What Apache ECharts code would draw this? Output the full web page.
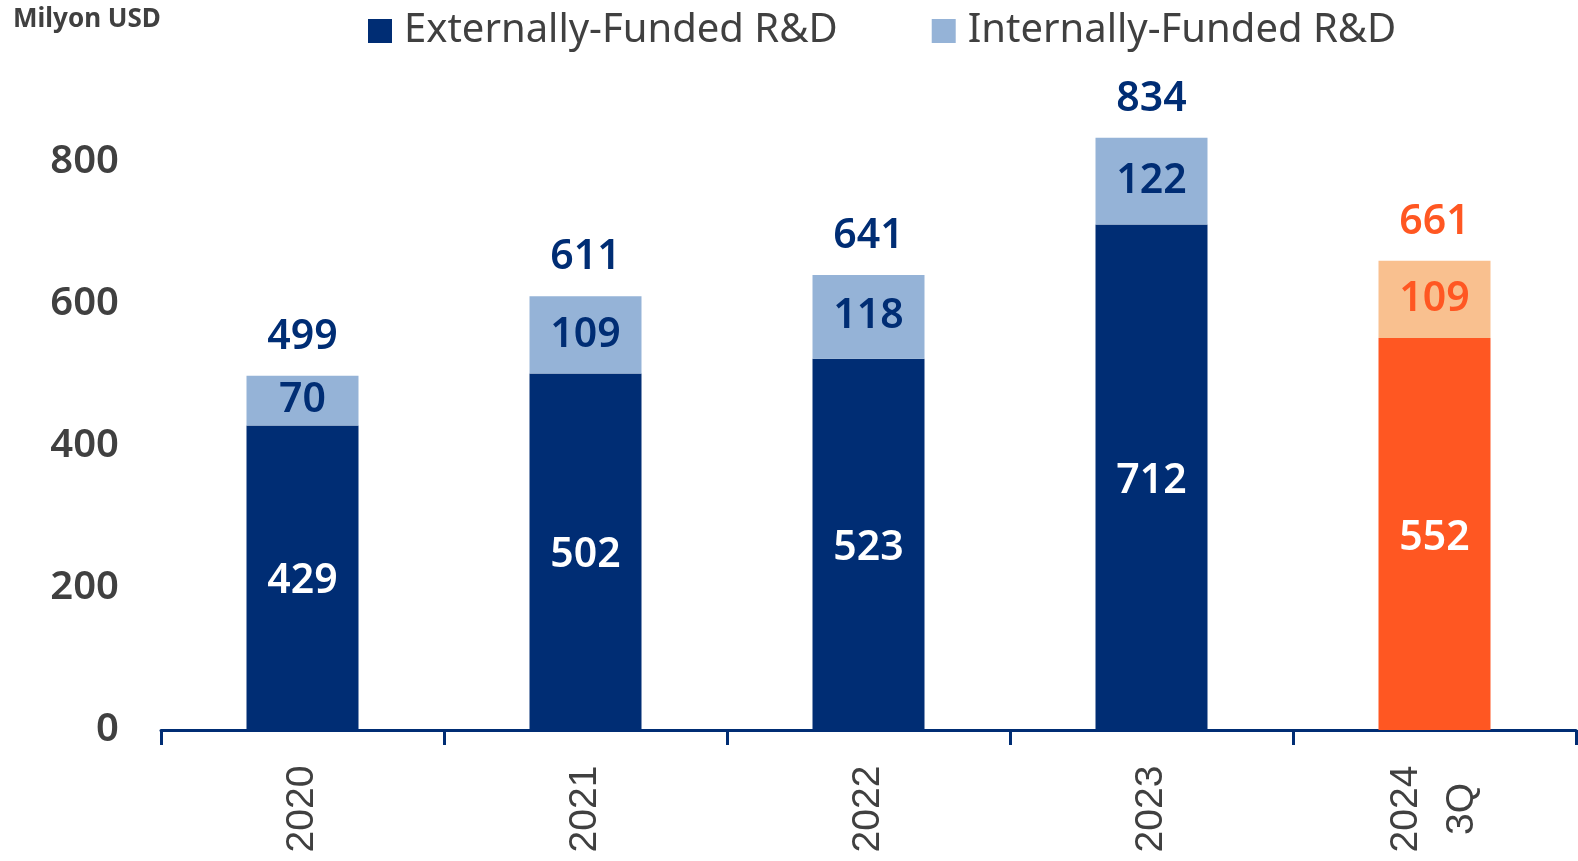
<!DOCTYPE html>
<html>
<head>
<meta charset="utf-8">
<script src="https://cdn.jsdelivr.net/npm/echarts@6/dist/echarts.min.js"></script>
<style>
  html, body { margin: 0; padding: 0; background: #ffffff; }
  #chart { width: 1578px; height: 861px; }
</style>
</head>
<body>
<div id="chart"></div>
<script>
// R&D spending by funding source, million USD
const categories = ['2020', '2021', '2022', '2023', '2024\n3Q'];
const externalRD = [429, 502, 523, 712, 552];
const internalRD = [70, 109, 118, 122, 109];
const yTicks = [0, 200, 400, 600, 800];

const NAVY = '#002D74';
const LIGHT_BLUE = '#95B3D7';
const ORANGE = '#FF5722';
const LIGHT_ORANGE = '#F9C08F';
const TEXT = '#404040';
const FONT = '"Noto Sans", "Open Sans", sans-serif';

// last category is the partial year, highlighted in orange
const lastIdx = categories.length - 1;
const totals = externalRD.map((v, i) => v + internalRD[i]);

const extData = externalRD.map((v, i) => i === lastIdx
  ? { value: v, itemStyle: { color: ORANGE } } : v);
const intData = internalRD.map((v, i) => i === lastIdx
  ? { value: v, itemStyle: { color: LIGHT_ORANGE }, label: { color: ORANGE } } : v);
const totalData = totals.map((v, i) => i === lastIdx
  ? { value: v, label: { color: ORANGE } } : v);

const chart = echarts.init(document.getElementById('chart'));
chart.setOption({
  animation: false,
  backgroundColor: '#ffffff',
  textStyle: { fontFamily: FONT },
  title: {
    text: 'Milyon USD',
    left: 8, top: 2,
    textStyle: { fontFamily: FONT, fontSize: 26, fontWeight: 'bold', color: TEXT }
  },
  legend: {
    data: ['Externally-Funded R&D', 'Internally-Funded R&D'],
    left: 363, top: 6,
    icon: 'rect',
    itemWidth: 24, itemHeight: 24,
    itemGap: 94,
    textStyle: { fontFamily: FONT, fontSize: 40, color: TEXT, padding: [0, 0, 0, 7] }
  },
  grid: { left: 161, right: 2, top: 91, bottom: 131, containLabel: false },
  xAxis: {
    type: 'category',
    data: categories,
    axisLine: { lineStyle: { color: NAVY, width: 3 } },
    axisTick: { show: true, alignWithLabel: false, length: 15, lineStyle: { color: NAVY, width: 3 } },
    axisLabel: {
      rotate: 90, margin: 79, fontSize: 39, color: TEXT,
      fontFamily: '"Liberation Sans", Arial, sans-serif',
      lineHeight: 56, align: 'center', verticalAlign: 'middle',
      padding: [18, 0, 0, 0]
    }
  },
  yAxis: {
    type: 'value',
    min: 0, max: 900, interval: 200,
    axisLine: { show: false },
    axisTick: { show: false },
    splitLine: { show: false },
    axisLabel: {
      showMaxLabel: false, margin: 42, fontSize: 40, fontWeight: 600,
      color: TEXT, fontFamily: FONT,
      formatter: v => (yTicks.includes(v) ? String(v) : '')
    }
  },
  series: [
    {
      name: 'Externally-Funded R&D',
      type: 'bar', stack: 'rd', barWidth: 112,
      itemStyle: { color: NAVY },
      label: {
        show: true, position: 'inside', color: '#ffffff',
        fontSize: 41, fontWeight: 600, fontFamily: FONT, offset: [0, 4]
      },
      data: extData
    },
    {
      name: 'Internally-Funded R&D',
      type: 'bar', stack: 'rd', barWidth: 112,
      itemStyle: { color: LIGHT_BLUE },
      label: {
        show: true, position: 'inside', color: NAVY,
        fontSize: 41, fontWeight: 600, fontFamily: FONT
      },
      data: intData
    },
    {
      name: 'Total',
      type: 'scatter', symbolSize: 0, silent: true,
      itemStyle: { opacity: 1, color: NAVY },
      label: {
        show: true, position: 'top', distance: 18, color: NAVY, opacity: 1,
        fontSize: 41, fontWeight: 600, fontFamily: FONT
      },
      data: totalData
    }
  ]
});
</script>
</body>
</html>
